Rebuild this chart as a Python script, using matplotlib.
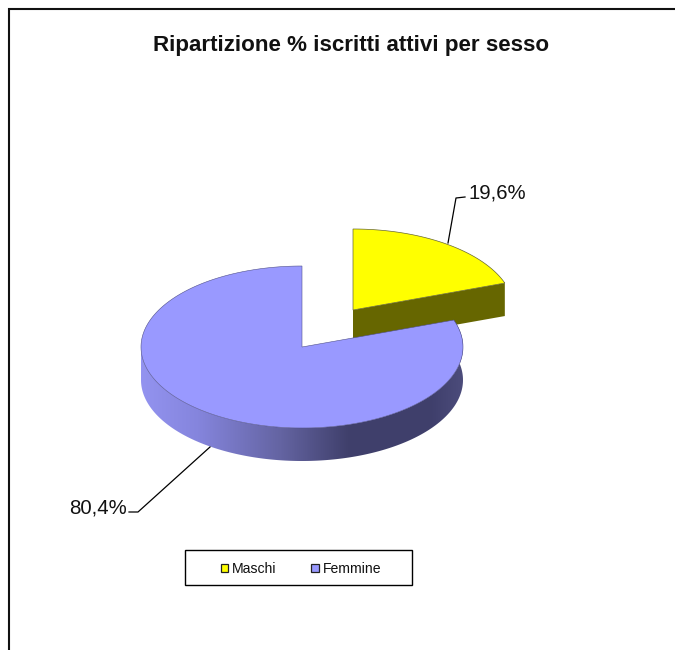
import numpy as np
import matplotlib
matplotlib.use("Agg")
import matplotlib.pyplot as plt
from matplotlib.patches import Polygon, Rectangle, PathPatch
from matplotlib.path import Path

plt.rcParams['font.family'] = ['Liberation Sans', 'DejaVu Sans']

titolo = "Ripartizione % iscritti attivi per sesso"
categorie = ["Maschi", "Femmine"]
percentuali = [19.6, 80.4]
etichette = ["19,6%", "80,4%"]
colori_top = ["#ffff00", "#9999ff"]

W, H = 675, 650
RX, RY, DEPTH = 161, 81, 33
CENTRO_F = (302, 347)
CENTRO_M = (353, 310)

fig = plt.figure(figsize=(W / 100, H / 100), dpi=100)
ax = fig.add_axes([0, 0, 1, 1])
ax.set_xlim(0, W)
ax.set_ylim(H, 0)
ax.axis("off")

# cornice del grafico (manca il lato destro, tagliato nell'originale)
ax.plot([8.5, 8.5, W], [H, 8.5, 8.5], color="#111111", lw=1.5, solid_joinstyle="miter")


def arco(c, a0, a1, dy=0):
    # angoli in gradi, 0 = ore 12, senso orario
    t = np.radians(np.linspace(a0, a1, 200))
    return np.column_stack([c[0] + RX * np.sin(t), c[1] - RY * np.cos(t) + dy])


# fetta gialla
fine_m = percentuali[0] * 3.6
p_end = arco(CENTRO_M, fine_m, fine_m)[0]
lato = [CENTRO_M, p_end, (p_end[0], p_end[1] + DEPTH), (CENTRO_M[0], CENTRO_M[1] + DEPTH)]
ax.add_patch(Polygon(lato, closed=True, fc="#666600", ec="none", zorder=2))
top_m = np.vstack([[CENTRO_M], arco(CENTRO_M, 0, fine_m)])
ax.add_patch(Polygon(top_m, closed=True, fc=colori_top[0], ec="#666633", lw=0.5, zorder=3))

# fetta blu: bordo laterale con sfumatura
a0 = fine_m
a1 = 360
sup = arco(CENTRO_F, a0, 270)
inf = arco(CENTRO_F, a0, 270, DEPTH)[::-1]
muro = np.vstack([sup, inf])
path_muro = Path(np.vstack([muro, muro[0]]), closed=True)
xs = [141, 197, 280, 347, 430, 463]
rgb = np.array([[0x93, 0x93, 0xf0], [0x85, 0x85, 0xdd], [0x64, 0x64, 0xa2],
                [0x40, 0x40, 0x6c], [0x3f, 0x3f, 0x6b], [0x4c, 0x4c, 0x7c]]) / 255
griglia = np.arange(141, 464)
grad = np.column_stack([np.interp(griglia, xs, rgb[:, i]) for i in range(3)])[None, :, :]
im = ax.imshow(grad, extent=[141, 464, 347 + RY + DEPTH + 2, 300], aspect="auto", zorder=4)
im.set_clip_path(PathPatch(path_muro, transform=ax.transData))
ax.set_xlim(0, W)
ax.set_ylim(H, 0)

top_f = np.vstack([[CENTRO_F], arco(CENTRO_F, a0, a1)])
ax.add_patch(Polygon(top_f, closed=True, fc=colori_top[1], ec="#50508a", lw=0.4, zorder=5))

# etichette con linee guida
ax.plot([448, 456, 465], [243, 198, 197], color="black", lw=0.9, zorder=6)
ax.text(468, 193, etichette[0], fontsize=14.7, ha="left", va="center", color="#111111", zorder=6)
ax.plot([210, 138, 129], [447, 512, 512], color="black", lw=0.9, zorder=6)
ax.text(127, 508, etichette[1], fontsize=14.7, ha="right", va="center", color="#111111", zorder=6)

ax.text(351, 45, titolo, fontsize=16.15, fontweight="bold", ha="center", va="center", color="#111111")

# legenda
ax.add_patch(Rectangle((185, 549.5), 227, 35.5, fc="white", ec="black", lw=1, zorder=6))
for x_m, x_t, col, nome in zip([220.5, 311], [232, 323], colori_top, categorie):
    ax.add_patch(Rectangle((x_m, 564), 7.5, 7.5, fc=col, ec="#222222", lw=0.9, zorder=7))
    ax.text(x_t, 569, nome, fontsize=10.1, ha="left", va="center", color="#111111", zorder=7)

fig.savefig("out.png", dpi=100)
